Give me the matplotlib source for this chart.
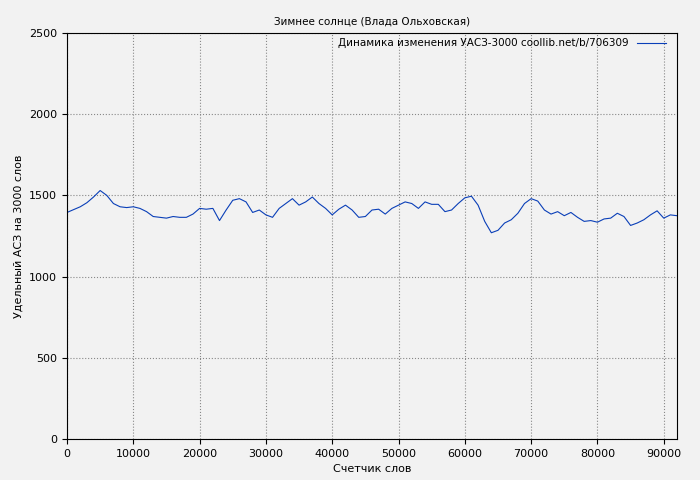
import matplotlib
matplotlib.use('Agg')
import matplotlib.pyplot as plt

xs = [0,2000,3000,4000,5000,6000,7000,8000,9000,10000,11000,12000,13000,14000,15000,16000,17000,18000,19000,20000,21000,22000,23000,24000,25000,26000,27000,28000,29000,30000,31000,32000,33000,34000,35000,36000,37000,38000,39000,40000,41000,42000,43000,44000,45000,46000,47000,48000,49000,50000,51000,52000,53000,54000,55000,56000,57000,58000,59000,60000,61000,62000,63000,64000,65000,66000,67000,68000,69000,70000,71000,72000,73000,74000,75000,76000,77000,78000,79000,80000,81000,82000,83000,84000,85000,86000,87000,88000,89000,90000,91000,92000]
ys = [1395,1430,1455,1490,1530,1500,1450,1430,1425,1430,1420,1400,1370,1365,1360,1370,1365,1365,1385,1420,1415,1420,1345,1410,1470,1480,1460,1395,1410,1380,1365,1420,1450,1480,1440,1460,1490,1450,1420,1380,1415,1440,1410,1365,1370,1410,1415,1385,1420,1440,1460,1450,1420,1460,1445,1445,1400,1410,1450,1485,1495,1440,1340,1270,1285,1330,1350,1390,1450,1480,1465,1410,1385,1400,1375,1395,1365,1340,1345,1335,1355,1360,1390,1370,1315,1330,1350,1380,1405,1360,1380,1375]

fig = plt.figure(figsize=(7, 4.8), dpi=100, facecolor='#f2f2f2')
ax = fig.add_axes([67/700, 41/480, 610/700, 406/480])
ax.set_facecolor('#f2f2f2')
ax.plot(xs, ys, color='#0a3fb8', lw=0.8, label='Динамика изменения УАСЗ-3000 coollib.net/b/706309')
ax.set_xlim(0, 92000)
ax.set_ylim(0, 2500)
ax.set_xticks(range(0, 90001, 10000))
ax.set_yticks(range(0, 2501, 500))
ax.grid(True, color='#888888', linestyle=':', lw=0.8)
ax.tick_params(labelsize=8)
ax.set_title('Зимнее солнце (Влада Ольховская)', fontsize=7.5)
ax.set_xlabel('Счетчик слов', fontsize=8)
ax.set_ylabel('Удельный АСЗ на 3000 слов', fontsize=8)
leg = ax.legend(loc='upper right', fontsize=7.5, frameon=False, markerfirst=False,
                handlelength=2.8, borderaxespad=0.1, bbox_to_anchor=(0.99, 1.0))
fig.savefig('out.png', dpi=100, facecolor=fig.get_facecolor())
